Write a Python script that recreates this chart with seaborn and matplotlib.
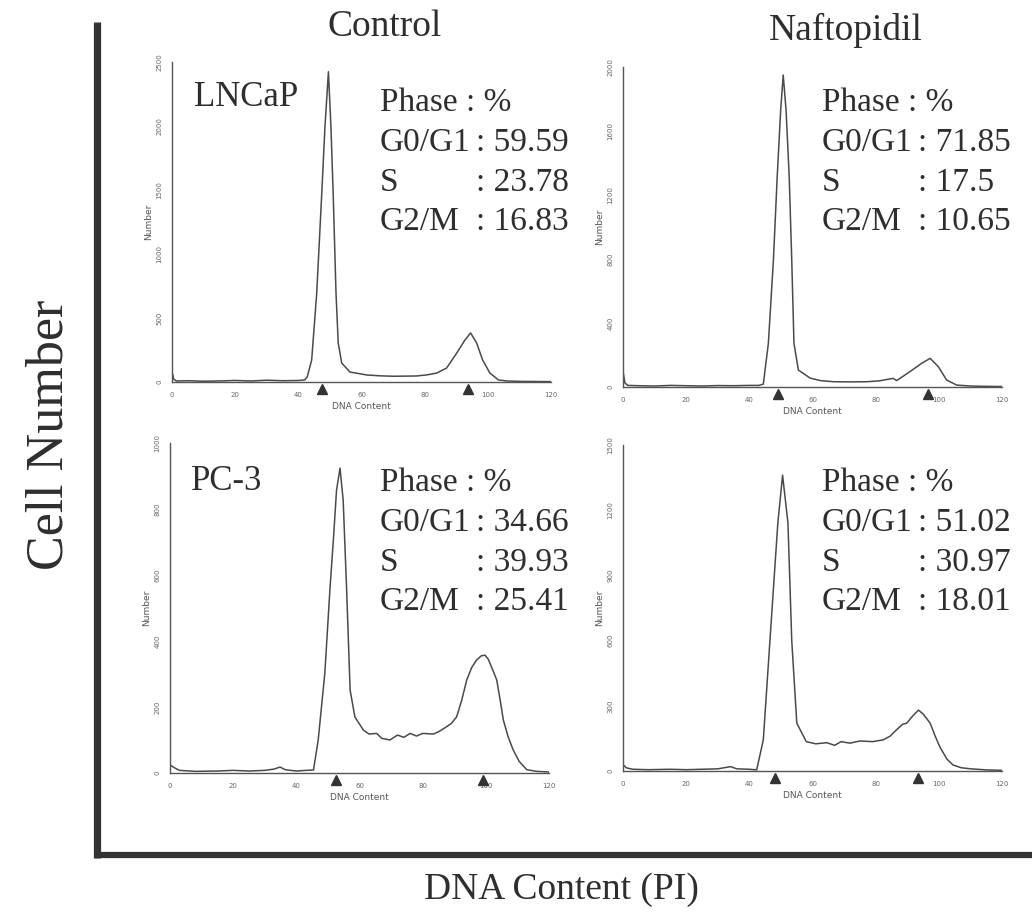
import numpy as np
import pandas as pd
import matplotlib
matplotlib.use("Agg")
import matplotlib.pyplot as plt
import seaborn as sns
from matplotlib.lines import Line2D
from matplotlib.ticker import MultipleLocator

# ---------------- data ----------------
columns = ["Control", "Naftopidil"]
cell_lines = ["LNCaP", "PC-3"]

# LNCaP control
lnc_ctrl_x = [0, 0.6, 1.5, 5, 10, 15, 20, 25, 30, 35, 40, 42, 42.8, 44.2, 45.8, 47.4, 48.4, 49.5,
              50.3, 51.0, 51.9, 52.6, 53.7, 56.3, 61.6, 66, 70, 74, 77.4, 80.5, 83.8, 86.9, 90.1,
              92.7, 94.5, 96.4, 98.3, 100.6, 103.3, 106, 110, 115, 120]
lnc_ctrl_y = [80, 20, 8, 10, 6, 8, 12, 8, 14, 10, 12, 16, 40, 172, 695, 1476, 1992, 2424,
              1992, 1476, 695, 305, 148, 78, 55, 48, 45, 46, 47, 55, 70, 109, 226,
              328, 383, 305, 172, 70, 16, 8, 5, 4, 3]
# LNCaP naftopidil
lnc_naf_x = [0, 0.6, 1.5, 5, 10, 15, 20, 25, 30, 35, 40, 43, 44.4, 46.0, 47.6, 48.8, 49.9, 50.7,
             51.6, 52.6, 53.4, 54.1, 55.5, 59.2, 62.5, 66.6, 72, 77.1, 81, 85.5, 86.6, 90.8,
             94.5, 97.2, 99.8, 102.4, 105.6, 110, 115, 120]
lnc_naf_y = [100, 25, 10, 8, 6, 10, 8, 6, 9, 8, 10, 10, 18, 273, 794, 1314, 1731, 1950,
             1731, 1314, 794, 273, 106, 56, 40, 33, 32, 33, 38, 54, 40, 96,
             148, 179, 127, 44, 12, 6, 4, 3]
# PC-3 control
pc3_ctrl_x = [0, 1, 3, 8, 15, 20, 25, 30, 33, 34.8, 36.5, 40, 43, 45.4, 46.9, 49.0, 50.6, 51.7,
              52.7, 53.8, 54.8, 55.9, 57.0, 58.5, 61.2, 63, 65.4, 67, 69.6, 72, 74, 76, 78, 80,
              83.3, 85, 87.5, 89, 90.7, 92.3, 93.9, 95.5, 97, 98.5, 99.7, 100.7, 101.8, 103.4,
              104.5, 105.5, 107, 108.6, 110.5, 112.9, 116, 120]
pc3_ctrl_y = [25, 18, 8, 5, 6, 8, 6, 8, 12, 18, 10, 6, 8, 9, 100, 303, 555, 706,
              857, 924, 827, 555, 251, 170, 130, 118, 120, 105, 100, 115, 108, 120, 112, 120,
              118, 125, 140, 150, 170, 220, 282, 320, 342, 355, 357, 345, 320, 282,
              220, 160, 110, 70, 35, 10, 5, 3]
# PC-3 naftopidil
pc3_naf_x = [0, 1, 3, 8, 15, 20, 25, 30, 34.1, 36, 40, 42.3, 44.4, 46.5, 49.0, 50.5, 52.2, 53.4,
             55.0, 58.0, 61, 64.5, 67, 69, 71.8, 75, 79, 82.3, 84.5, 86.6, 88.5, 89.8, 91.5,
             93.5, 95, 97.2, 98.8, 100.3, 102.5, 104.4, 107, 110, 115, 120]
pc3_naf_y = [30, 15, 8, 6, 8, 6, 8, 10, 20, 10, 8, 5, 143, 600, 1140, 1360, 1140, 600,
             220, 135, 125, 130, 118, 135, 128, 138, 135, 143, 160, 190, 215, 220, 250,
             280, 262, 220, 160, 110, 55, 28, 15, 10, 5, 3]

# G1 / G2 peak markers (DNA content)
lnc_ctrl_marks = [47.5, 93.7]
lnc_naf_marks = [49.0, 96.5]
pc3_ctrl_marks = [52.5, 99.0]
pc3_naf_marks = [48.0, 93.5]

phase_names = ["G0/G1", "S", "G2/M"]
lnc_ctrl_pct = ["59.59", "23.78", "16.83"]
lnc_naf_pct = ["71.85", "17.5", "10.65"]
pc3_ctrl_pct = ["34.66", "39.93", "25.41"]
pc3_naf_pct = ["51.02", "30.97", "18.01"]

y_max = [2500, 2000, 1000, 1500]
y_major = [500, 400, 200, 300]

# ---------------- figure ----------------
W, H = 1032, 921
sns.set_style("white")
plt.rcParams["font.family"] = ["Liberation Serif", "DejaVu Serif"]
fig = plt.figure(figsize=(W / 100, H / 100), dpi=100)
fig.patch.set_facecolor("white")

def fx(px):
    return px / W

def fy(py):
    return 1 - py / H

txt_c = "#2e2e2e"
line_c = "#4a4a4a"

panels = [
    dict(x=lnc_ctrl_x, y=lnc_ctrl_y, marks=lnc_ctrl_marks, pct=lnc_ctrl_pct,
         x0=172, y0=382, ppu=0.128, tx=380, cx=476, ty=103),
    dict(x=lnc_naf_x, y=lnc_naf_y, marks=lnc_naf_marks, pct=lnc_naf_pct,
         x0=623, y0=387, ppu=0.16, tx=822, cx=918, ty=103),
    dict(x=pc3_ctrl_x, y=pc3_ctrl_y, marks=pc3_ctrl_marks, pct=pc3_ctrl_pct,
         x0=170, y0=773, ppu=0.33, tx=380, cx=476, ty=483),
    dict(x=pc3_naf_x, y=pc3_naf_y, marks=pc3_naf_marks, pct=pc3_naf_pct,
         x0=623, y0=771, ppu=0.2175, tx=822, cx=918, ty=483),
]
axw = 120 * 3.16

for i, p in enumerate(panels):
    hpx = y_max[i] * p["ppu"]
    ax = fig.add_axes([fx(p["x0"]), fy(p["y0"]), axw / W, hpx / H])
    ax.patch.set_alpha(0)
    df = pd.DataFrame({"DNA": p["x"], "count": p["y"]})
    sns.lineplot(data=df, x="DNA", y="count", ax=ax, color=line_c, lw=1.1, estimator=None)
    ax.set_xlim(0, 120)
    ax.set_ylim(0, y_max[i])
    for s in ["top", "right"]:
        ax.spines[s].set_visible(False)
    for s in ["left", "bottom"]:
        ax.spines[s].set_color("#555555")
        ax.spines[s].set_linewidth(1.0)
    ax.xaxis.set_major_locator(MultipleLocator(20))
    ax.xaxis.set_minor_locator(MultipleLocator(4))
    ax.yaxis.set_major_locator(MultipleLocator(y_major[i]))
    ax.yaxis.set_minor_locator(MultipleLocator(y_major[i] / 5))
    ax.tick_params(axis="both", which="major", direction="out", length=5, width=0.9,
                   color="#555555", labelsize=5, labelcolor="#666666", pad=2)
    ax.tick_params(axis="both", which="minor", direction="out", length=3, width=0.8,
                   color="#555555")
    for lab in ax.get_yticklabels():
        lab.set_rotation(90)
        lab.set_va("center")
        lab.set_family("DejaVu Sans")
    for lab in ax.get_xticklabels():
        lab.set_family("DejaVu Sans")
    ax.set_xlabel("DNA Content", fontsize=6.5, family="DejaVu Sans", color="#555555", labelpad=3)
    ax.set_ylabel("Number", fontsize=6.5, family="DejaVu Sans", color="#555555", labelpad=2)
    ax.plot(p["marks"], [-0.022] * len(p["marks"]), transform=ax.get_xaxis_transform(),
            ls="none", marker="^", ms=7, color="#333333", clip_on=False)
    # phase annotation
    fig.text(fx(p["tx"]), fy(p["ty"]), "Phase : %", fontsize=24, color=txt_c,
             ha="left", va="center")
    for k, (nm, val) in enumerate(zip(phase_names, p["pct"])):
        yy = p["ty"] + 40 * (k + 1) - (1 if k == 2 else 0)
        fig.text(fx(p["tx"]), fy(yy), nm, fontsize=24, color=txt_c, ha="left", va="center")
        fig.text(fx(p["cx"]), fy(yy), ": " + val, fontsize=24, color=txt_c,
                 ha="left", va="center")

# cell line labels
fig.text(fx(246), fy(97), cell_lines[0], fontsize=25, color=txt_c, ha="center", va="center")
fig.text(fx(227), fy(481), cell_lines[1], fontsize=25, color=txt_c, ha="center", va="center")
# column titles
fig.text(fx(385), fy(27), columns[0], fontsize=27, color=txt_c, ha="center", va="center")
fig.text(fx(846), fy(30), columns[1], fontsize=27, color=txt_c, ha="center", va="center")
# outer axis titles
fig.text(fx(50), fy(435), "Cell Number", fontsize=37.5, color=txt_c, ha="center", va="center",
         rotation=90)
fig.text(fx(561), fy(890), "DNA Content (PI)", fontsize=27, color=txt_c, ha="center", va="center")

# outer L frame
fig.add_artist(Line2D([fx(97), fx(97)], [fy(22), fy(858)], color="#333333", lw=5.2,
                      solid_capstyle="butt"))
fig.add_artist(Line2D([fx(94), fx(1032)], [fy(855), fy(855)], color="#333333", lw=4.5,
                      solid_capstyle="butt"))

fig.savefig("out.png", dpi=100, facecolor="white")
